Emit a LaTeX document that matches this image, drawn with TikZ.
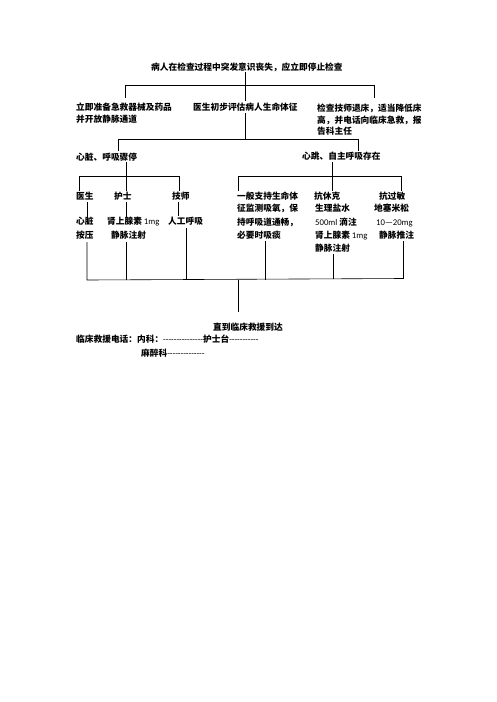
\documentclass[tikz,border=0pt]{standalone}
\usepackage{fontspec}
\setmainfont{Carlito}
\newfontfamily\cjk{Noto Sans CJK SC}
\newfontfamily\lat{Carlito}
\begin{document}
\begin{tikzpicture}[x=1pt,y=-1pt,
  txt/.style={anchor=base west, inner sep=0pt, font=\cjk\bfseries\fontsize{8.7}{12}\selectfont},
  ln/.style={line width=0.6pt, draw=black}]
\useasboundingbox[fill=white] (0,0) rectangle (496,702);
% texts
\node[txt] (title) at (151,70.2) {病人在检查过程中突发意识丧失，应立即停止检查};
\node[txt] (a1) at (76,110.7) {立即准备急救器械及药品};
\node[txt] (a2) at (76,122.5) {并开放静脉通道};
\node[txt] (b) at (193,110.7) {医生初步评估病人生命体征};
\node[txt] (c1) at (317,111) {检查技师退床，适当降低床};
\node[txt] (c2) at (317,123) {高，并电话向临床急救，报};
\node[txt] (c3) at (317,134.7) {告科主任};
\node[txt] (d) at (76,160) {心脏、呼吸骤停};
\node[txt] (e) at (302,159.5) {心跳、自主呼吸存在};
\node[txt] (f1) at (76,199.5) {医生};
\node[txt] (f2) at (114,199.5) {护士};
\node[txt] (f3) at (172,199.5) {技师};
\node[txt] (g1) at (237,199.5) {一般支持生命体};
\node[txt] (g2) at (237,211.7) {征监测吸氧，保};
\node[txt] (g3) at (237,225.2) {持呼吸道通畅，};
\node[txt] (g4) at (237,238.2) {必要时吸痰};
\node[txt] (h1) at (314,199.5) {抗休克};
\node[txt] (h2) at (315,211.7) {生理盐水};
\node[txt] (h3) at (315,225.2) {{\lat\mdseries 500ml} 滴注};
\node[txt] (h4) at (315,238.2) {肾上腺素 {\lat\mdseries 1mg}};
\node[txt] (h5) at (315,251.2) {静脉注射};
\node[txt] (k1) at (379,199.5) {抗过敏};
\node[txt] (k2) at (374,211.7) {地塞米松};
\node[txt] (k3) at (376,225.2) {{\lat\mdseries 10—20mg}};
\node[txt] (k4) at (379,238.2) {静脉推注};
\node[txt] (m1) at (76,224.2) {心脏};
\node[txt] (m2) at (76,238.2) {按压};
\node[txt] (n1) at (107,224.2) {肾上腺素 {\lat\mdseries 1mg}};
\node[txt] (n2) at (111,238.2) {静脉注射};
\node[txt] (p1) at (168,224.2) {人工呼吸};
\node[txt] (q) at (213,330.2) {直到临床救援到达};
\node[txt] (r1) at (76,342.2) {临床救援电话：内科：{\lat\mdseries ---------------}护士台{\lat\mdseries -----------}};
\node[txt] (r2) at (141,356.2) {麻醉科{\lat\mdseries --------------}};
% junction coordinates
\coordinate (t0) at (245.5,72);
\coordinate (t2) at (245.5,101);
\coordinate (L1) at (125,85.5);
\coordinate (L1b) at (125,97.5);
\coordinate (R1) at (374,85.5);
\coordinate (R1b) at (374,98);
\coordinate (u0) at (245.5,113);
\coordinate (u1) at (245.5,139);
\coordinate (L2) at (118,139);
\coordinate (L2b) at (118,151);
\coordinate (R2) at (358,139);
\coordinate (R2b) at (358,151);
\coordinate (d0) at (126,162);
\coordinate (d1) at (126,176);
\coordinate (dl) at (79,176);
\coordinate (dr) at (179,176);
\coordinate (e0) at (332,162);
\coordinate (e1) at (332,176);
\coordinate (el) at (238,176);
\coordinate (er) at (401,176);
\coordinate (B0) at (238,280);
\coordinate (B1) at (238,312);
% connectors
\draw[ln] (t0) -- (t2);
\draw[ln] (L1b) -- (L1) -- (R1) -- (R1b);
\draw[ln] (u0) -- (u1);
\draw[ln] (L2b) -- (L2) -- (R2) -- (R2b);
\draw[ln] (d0) -- (d1);
\draw[ln] (79,191) -- (dl) -- (dr) -- (179,191);
\draw[ln] (d1) -- (126,191);
\draw[ln] (e0) -- (e1);
\draw[ln] (238,191) -- (el) -- (er) -- (401,191);
\draw[ln] (e1) -- (332,191);
\draw[ln] (87,202) -- (87,218);
\draw[ln] (126,202) -- (126,218);
\draw[ln] (178,202) -- (178,216);
\draw[ln] (87,242) -- (87,280) -- (403.5,278.5) -- (403.5,241);
\draw[ln] (126,242) -- (126,280);
\draw[ln] (186,228) -- (186,280);
\draw[ln] (265.5,241) -- (265.5,279.5);
\draw[ln] (333,254) -- (333,279);
\draw[ln] (B0) -- (B1);
\end{tikzpicture}
\end{document}
